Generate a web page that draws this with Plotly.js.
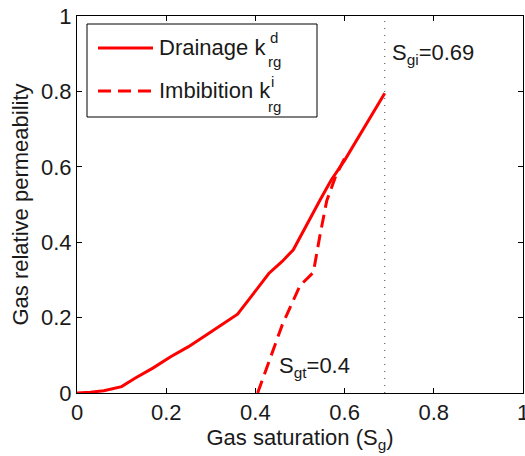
<!DOCTYPE html>
<html>
<head>
<meta charset="utf-8">
<script src="https://cdn.plot.ly/plotly-3.0.1.min.js"></script>
<style>html,body{margin:0;padding:0;background:#fff;}#chart{width:525px;height:456px;}</style>
</head>
<body>
<div id="chart"></div>
<script>
// Data
var sgDrain  = [0, 0.03, 0.06, 0.10, 0.13, 0.17, 0.21, 0.25, 0.30, 0.36, 0.39, 0.43, 0.46, 0.485, 0.545, 0.57, 0.60, 0.69];
var krgDrain = [0, 0.002, 0.006, 0.017, 0.039, 0.066, 0.096, 0.123, 0.162, 0.209, 0.255, 0.317, 0.349, 0.380, 0.512, 0.565, 0.617, 0.795];
var sgImb    = [0.405, 0.46, 0.50, 0.53, 0.545, 0.56, 0.58, 0.605];
var krgImb   = [0, 0.18, 0.285, 0.32, 0.42, 0.51, 0.575, 0.635];
var sgi = 0.69;
var sgt = 0.4;
var tickVals = [0, 0.2, 0.4, 0.6, 0.8, 1];
var tickText = ['0', '0.2', '0.4', '0.6', '0.8', '1'];

var W = 525, H = 456;
var M = {l: 77, r: 2, t: 16, b: 63};
var PW = W - M.l - M.r, PH = H - M.t - M.b;
function px(x) { return (x - M.l) / PW; }
function py(y) { return (H - M.b - y) / PH; }

var FONT = 'Liberation Sans, Arial, Helvetica, sans-serif';
var RED = '#ff0000';
var TXT = '#1a1a1a';
var FS = 22;

var traces = [
  {x: sgDrain, y: krgDrain, mode: 'lines', name: 'Drainage',
   line: {color: RED, width: 3}, showlegend: false},
  {x: sgImb, y: krgImb, mode: 'lines', name: 'Imbibition',
   line: {color: RED, width: 3, dash: '13px,7px'}, showlegend: false},
  {x: [sgi, sgi], y: [0, 1], mode: 'lines', name: 'Sgi',
   line: {color: '#444', width: 1, dash: '1px,6px'}, showlegend: false}
];

var shapes = [
  {type: 'rect', xref: 'paper', yref: 'paper', x0: px(87), x1: px(317), y0: py(117), y1: py(24),
   line: {color: '#000', width: 1}, fillcolor: '#fff', layer: 'above'},
  {type: 'line', xref: 'paper', yref: 'paper', x0: px(98), x1: px(153), y0: py(48), y1: py(48),
   line: {color: RED, width: 3}, layer: 'above'},
  {type: 'line', xref: 'paper', yref: 'paper', x0: px(98), x1: px(153), y0: py(91), y1: py(91),
   line: {color: RED, width: 3, dash: '13px,7px'}, layer: 'above'}
];

function ann(text, x, y, size, xanchor) {
  return {text: text, xref: 'paper', yref: 'paper', x: px(x), y: py(y),
          xanchor: xanchor || 'left', yanchor: 'middle', showarrow: false,
          font: {family: FONT, size: size, color: TXT}};
}

var annotations = [
  ann('Drainage k', 157, 47, FS),
  ann('d', 268, 37, 15),
  ann('rg', 266, 62, 15),
  ann('Imbibition k', 157, 90, FS),
  ann('i', 269, 81, 15),
  ann('rg', 266, 106, 15),
  {text: 'S<sub>gi</sub>=0.69', x: sgi, y: 0.9, xref: 'x', yref: 'y', xanchor: 'left', yanchor: 'middle',
   xshift: 5, showarrow: false, font: {family: FONT, size: FS, color: TXT}},
  {text: 'S<sub>gt</sub>=0.4', x: sgt, y: 0.07, xref: 'x', yref: 'y', xanchor: 'left', yanchor: 'middle',
   xshift: 22, showarrow: false, font: {family: FONT, size: FS, color: TXT}}
];

var axisCommon = {
  range: [0, 1], tickmode: 'array', tickvals: tickVals, ticktext: tickText,
  ticks: 'inside', ticklen: 5, tickwidth: 1, tickcolor: '#000',
  showline: true, linecolor: '#000', linewidth: 1, mirror: 'ticks',
  showgrid: false, zeroline: false, fixedrange: true,
  ticklabeloverflow: 'allow',
  tickfont: {family: FONT, size: FS, color: TXT}
};

var layout = {
  width: W, height: H, margin: M,
  paper_bgcolor: '#fff', plot_bgcolor: '#fff',
  showlegend: false,
  xaxis: Object.assign({}, axisCommon, {
    title: {text: 'Gas saturation (S<sub>g</sub>)', font: {family: FONT, size: FS, color: TXT}, standoff: 2}
  }),
  yaxis: Object.assign({}, axisCommon, {
    title: {text: 'Gas relative permeability', font: {family: FONT, size: FS, color: TXT}, standoff: 6}
  }),
  shapes: shapes,
  annotations: annotations
};

Plotly.newPlot('chart', traces, layout, {displayModeBar: false, staticPlot: true});
</script>
</body>
</html>
